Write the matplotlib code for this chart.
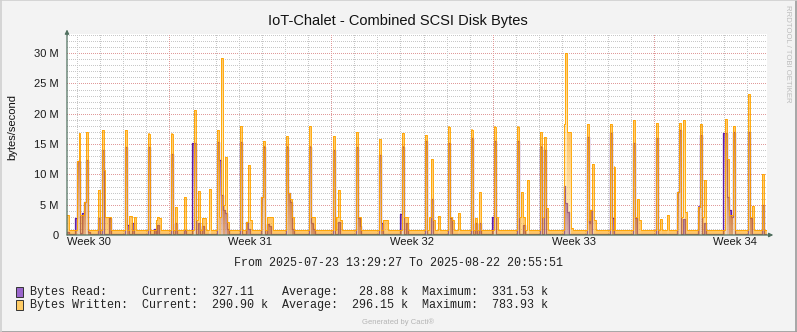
import numpy as np
import matplotlib
matplotlib.use('Agg')
import matplotlib.pyplot as plt
from matplotlib.patches import Rectangle
from matplotlib.lines import Line2D
from datetime import datetime, timedelta

W, H = 797, 332

t_start = datetime(2025, 7, 23, 13, 29, 27)
t_end = datetime(2025, 8, 22, 20, 55, 51)
step_h = 2.0          # consolidated samples, 2 h each
n_samples = 364

# MB/s, everything not listed sits on the floor value
written_floor = 0.75
read_floor = 0.1
written_peaks = [
    (0, 3.3), (5, 12.2), (6, 16.8), (7, 3.3), (8, 3.3), (9, 5.5), (10, 17.0),
    (16, 7.4), (18, 17.3), (19, 10.7), (20, 3.0), (21, 3.0), (22, 3.0),
    (30, 17.3), (32, 3.2), (33, 3.2), (35, 3.0),
    (42, 16.7), (46, 2.5), (47, 3.0), (48, 2.8),
    (54, 16.7), (56, 4.6), (61, 6.3),
    (66, 20.6), (67, 2.5), (68, 7.3), (70, 2.8), (71, 2.8), (74, 7.6),
    (78, 17.3), (79, 3.0), (80, 29.2), (81, 5.0), (82, 12.9), (83, 2.1),
    (90, 18.0), (93, 2.2), (94, 11.5), (95, 2.5),
    (101, 6.3), (102, 15.5), (104, 3.0), (105, 3.0), (106, 3.0),
    (114, 16.3), (115, 7.0), (116, 6.0), (117, 3.0),
    (126, 18.0), (127, 3.0), (128, 3.0),
    (138, 16.3), (140, 3.0), (141, 7.4), (142, 2.5),
    (150, 17.0), (151, 3.0), (152, 3.0),
    (162, 15.8), (164, 2.5), (165, 2.5), (166, 2.5),
    (174, 16.8), (175, 3.0), (176, 3.0),
    (186, 16.5), (188, 3.0), (189, 12.5), (190, 2.5), (193, 3.1),
    (198, 17.9), (199, 3.0), (200, 2.5), (203, 3.6),
    (210, 17.4), (212, 2.8), (214, 7.1),
    (222, 17.9), (223, 3.0),
    (234, 17.9), (235, 3.0), (236, 7.1), (237, 3.0), (239, 9.1),
    (246, 17.0), (247, 3.0), (248, 16.2), (249, 4.5),
    (258, 18.3), (259, 30.0), (260, 17.0), (261, 17.0), (262, 1.1),
    (270, 18.3), (271, 2.5), (272, 4.1), (273, 11.7), (274, 2.5),
    (282, 18.3), (284, 11.3),
    (294, 19.0), (295, 3.0), (296, 6.0), (297, 2.5),
    (306, 18.4), (308, 2.7), (312, 3.3),
    (317, 7.1), (318, 18.4), (319, 3.0), (320, 19.0), (321, 3.8),
    (328, 4.6), (329, 18.3), (330, 3.0), (331, 9.0),
    (342, 19.1), (343, 12.5), (344, 3.3), (345, 3.3), (346, 18.0),
    (354, 23.2), (355, 3.0), (356, 4.8), (361, 10.1),
]
read_peaks = [
    (0, 0.5), (4, 2.8), (5, 12.2), (6, 12.2), (7, 0.3), (8, 3.6), (9, 5.5),
    (10, 12.4), (11, 0.5), (16, 2.8),
    (18, 14.0), (22, 2.8), (30, 14.5), (31, 1.7), (34, 2.0),
    (42, 14.5), (45, 1.0), (47, 1.7), (54, 13.4), (56, 2.0), (61, 0.8),
    (65, 15.2), (66, 15.2), (68, 2.0), (70, 1.5),
    (78, 15.4), (79, 12.4), (80, 6.6), (81, 4.1), (82, 3.6), (83, 1.0),
    (90, 15.4), (93, 2.2), (94, 1.0),
    (101, 6.3), (102, 14.6), (104, 1.8), (105, 1.5),
    (114, 14.6), (115, 6.9), (116, 5.5), (117, 1.0),
    (126, 14.6), (127, 2.0), (128, 1.0), (138, 14.0), (141, 2.2),
    (150, 14.5), (151, 2.8), (152, 1.5), (162, 13.2), (163, 1.9),
    (173, 3.5), (174, 14.6), (176, 1.9), (186, 15.5), (189, 6.0),
    (198, 15.1), (199, 2.8), (210, 16.0), (212, 2.0), (214, 2.0),
    (221, 3.0), (222, 15.5), (234, 15.5), (237, 1.7),
    (246, 14.6), (248, 14.0), (258, 8.1), (259, 5.3), (260, 3.8),
    (270, 16.2), (271, 2.0), (272, 4.1), (282, 16.8), (283, 2.8),
    (294, 15.1), (295, 2.8), (306, 16.0),
    (317, 7.1), (318, 17.3), (320, 2.6), (328, 4.7), (329, 16.5), (331, 1.9),
    (341, 16.8), (342, 16.8), (343, 6.3), (344, 4.1), (345, 3.0), (346, 17.0),
    (354, 17.0), (355, 2.8), (361, 5.0),
]

legend_rows = [
    ('Bytes Read:     ', '327.11  ', ' 28.88 k', '331.53 k'),
    ('Bytes Written:  ', '290.90 k', '296.15 k', '783.93 k'),
]

y_max = 33.25
span_h = (t_end - t_start).total_seconds() / 3600


def hours(d):
    return (d - t_start).total_seconds() / 3600


def series(floor, peaks):
    s = np.full(n_samples, floor)
    for i, v in peaks:
        s[i] = v
    return s


written = series(written_floor, written_peaks)
read = series(read_floor, read_peaks)
edges = np.arange(n_samples + 1) * step_h


def px(x, y):
    return x / W, 1 - y / H


def gradient_area(ax, vals, top, bottom, depth, z):
    # colour fades from the line downwards over `depth` MB/s
    ny = 700
    ys = (np.arange(ny) + 0.5) / ny * y_max
    V = vals[None, :]
    Y = ys[:, None]
    f = np.clip((V - Y) / depth, 0, 1)[..., None]
    img = np.array(top) * (1 - f) + np.array(bottom) * f
    img[..., 3] *= (Y <= V)
    ax.imshow(img, origin='lower', extent=(0, n_samples * step_h, 0, y_max),
              aspect='auto', interpolation='nearest', zorder=z)


fig = plt.figure(figsize=(W / 100, H / 100), dpi=100)
fig.patch.set_facecolor('#F3F3F3')
ax = fig.add_axes([67 / W, 1 - 235 / H, 700 / W, 201.5 / H])
ax.set_facecolor('white')
ax.set_xlim(0, span_h)
ax.set_ylim(0, y_max)

# grid: 1 MB/s and daily minor lines, 5 MB/s and weekly major lines
dot = (0, (1, 2))
minor_col, major_col = '#C8C8C8', '#E09A9A'
for v in np.arange(1, 34):
    major = v % 5 == 0
    ax.axhline(v, color=major_col if major else minor_col, lw=0.72, ls=dot,
               antialiased=False, zorder=1)
day = datetime(2025, 7, 24)
week_mid = []
while day < t_end:
    is_monday = day.weekday() == 0
    ax.axvline(hours(day), color=major_col if is_monday else minor_col,
               lw=0.72, ls=dot, antialiased=False, zorder=1)
    if day.weekday() == 3:
        week_mid.append((hours(day + timedelta(hours=12)),
                         'Week %d' % day.isocalendar()[1]))
    day += timedelta(days=1)

# read underneath, written on top with a translucent fill
gradient_area(ax, read, (0.48, 0.24, 0.72, 0.8), (0.80, 0.68, 0.92, 0.4), 10.0, 2)
ax.step(edges, np.append(read, read[-1]), where='post', color='#5F1FA3', lw=0.9, zorder=3)
gradient_area(ax, written, (1.0, 0.62, 0.0, 0.6), (1.0, 0.80, 0.35, 0.4), 14.0, 4)
ax.step(edges, np.append(written, written[-1]), where='post', color='#FFA500',
        lw=0.65, zorder=5)

for s in ax.spines.values():
    s.set_visible(False)
ax.set_yticks(np.arange(0, 31, 5))
ax.set_yticklabels(['0'] + ['%d M' % v for v in range(5, 31, 5)])
ax.set_xticks([h for h, _ in week_mid])
ax.set_xticklabels([l for _, l in week_mid])
ax.tick_params(length=0, labelsize=8, colors='#1A1A1A')
ax.tick_params(axis='y', pad=6)
ax.tick_params(axis='x', pad=1.5)
for lab in ax.get_xticklabels() + ax.get_yticklabels():
    lab.set_family('Liberation Sans')

# axes with arrow heads
axis_col = '#50705F'
ax.annotate('', xy=(0, 1.02), xytext=(0, 0), xycoords='axes fraction',
            arrowprops=dict(arrowstyle='-|>', color=axis_col, lw=0.9,
                            mutation_scale=6, shrinkA=0, shrinkB=0), zorder=6)
ax.annotate('', xy=(1.009, 0), xytext=(0, 0), xycoords='axes fraction',
            arrowprops=dict(arrowstyle='-|>', color=axis_col, lw=0.9,
                            mutation_scale=6, shrinkA=0, shrinkB=0), zorder=6)

sans = 'Liberation Sans'
mono = 'Liberation Mono'
fig.text(*px(398, 21), 'IoT-Chalet - Combined SCSI Disk Bytes', ha='center', va='center',
         fontsize=10.5, family=sans, color='#111111')
fig.text(*px(12, 127), 'bytes/second', rotation=90, ha='center', va='center',
         fontsize=8, family=sans, color='#111111')
fig.text(*px(787, 5), 'RRDTOOL / TOBI OETIKER', rotation=270, ha='center', va='top',
         fontsize=5.6, family=sans, color='#BDBDBD')
fig.text(*px(398, 263), 'From %s To %s' % (t_start.strftime('%Y-%m-%d %H:%M:%S'),
                                           t_end.strftime('%Y-%m-%d %H:%M:%S')),
         ha='center', va='center', fontsize=8.4, family=mono, color='#222222')

swatch = ['#9A66CC', '#FFCC66']
for k, (name, cur, avg, mx) in enumerate(legend_rows):
    y = 292 + 13 * k
    fig.patches.append(Rectangle(px(15.5, y + 5), 7 / W, 10 / H, transform=fig.transFigure,
                                 facecolor=swatch[k], edgecolor='#333333', lw=0.7))
    line = '%sCurrent:  %s  Average:  %s  Maximum:  %s' % (name, cur, avg, mx)
    fig.text(*px(30, y), line, ha='left', va='center', fontsize=8.5, family=mono,
             color='#222222')

fig.text(*px(398, 322), 'Generated by Cacti\u00ae', ha='center', va='center',
         fontsize=5.5, family=sans, color='#B5B5B5')

# outer frame
fig.lines.append(Line2D([0, 1], [0.0015, 0.0015], transform=fig.transFigure, color='#9A9A9A', lw=1.2))
fig.lines.append(Line2D([0.9988, 0.9988], [0, 1], transform=fig.transFigure, color='#9A9A9A', lw=1.2))
fig.lines.append(Line2D([0, 1], [0.9985, 0.9985], transform=fig.transFigure, color='#D0D0D0', lw=1.2))
fig.lines.append(Line2D([0.0007, 0.0007], [0, 1], transform=fig.transFigure, color='#D0D0D0', lw=1.2))

fig.savefig('out.png', dpi=100, facecolor=fig.get_facecolor())
